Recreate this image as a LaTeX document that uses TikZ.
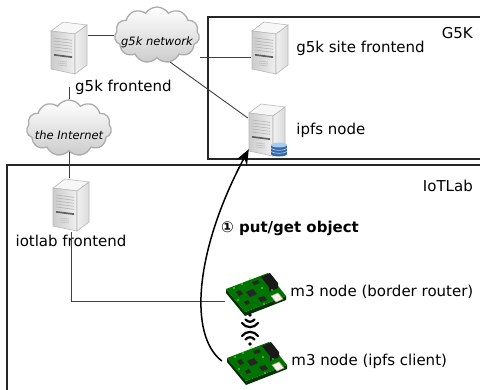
\documentclass[tikz,border=0pt]{standalone}
\usepackage{fontspec}
\setmainfont{DejaVu Sans}
\usetikzlibrary{arrows.meta,positioning,calc,shapes.symbols}

\definecolor{dbblue}{HTML}{3567A8}
\definecolor{dblight}{HTML}{A9CBEE}

% tower server, drawn around the node centre
\newcommand{\servericon}{%
  \begin{scope}[shift={(path picture bounding box.center)}]
    \filldraw[draw=gray!55, fill=gray!6, line width=0.6pt]
      (-18,-17) -- (-6,-26) -- (18,-23) -- (6,-14) -- cycle;
    \shadedraw[draw=gray!55, left color=gray!40, right color=gray!12, line width=0.6pt]
      (-18,-17) -- (6,-14) -- (6,26) -- (-18,21) -- cycle;
    \shadedraw[draw=gray!55, left color=gray!12, right color=gray!28, line width=0.6pt]
      (6,-14) -- (18,-23) -- (18,17) -- (6,26) -- cycle;
    \foreach \yy in {-10,-7,...,2}
      \draw[gray!60, line width=0.6pt] (-15,\yy) -- (3,\yy+2.3);
    \fill[gray!75!black] (-15,6) -- (3,8.3) -- (3,10) -- (-15,7.7) -- cycle;
    \foreach \yy in {13,15,17}
      \draw[gray!55, line width=0.5pt] (-11,\yy) -- (-2,\yy+1);
  \end{scope}}

% m3 board
\newcommand{\boardicon}{%
  \begin{scope}[shift={(path picture bounding box.center)}]
    \fill[green!20!black] (-30,-3) -- (-11,20) -- (30,4) -- (30,8) -- (-11,24) -- (-30,1) -- cycle;
    \fill[green!45!black] (-30,-3) -- (12,-19) -- (30,4) -- (-11,20) -- cycle;
    \fill[black!85] (-10,0) -- (-3,-3) -- (1,2) -- (-6,5) -- cycle;
    \fill[black!85] (-20,0) -- (-16,-2) -- (-13,2) -- (-17,4) -- cycle;
    \fill[black!85] (2,6) -- (8,4) -- (11,8) -- (5,10) -- cycle;
    \fill[black!85] (-4,-10) -- (2,-12) -- (4,-9) -- (-2,-7) -- cycle;
    \fill[black!85] (-12,10) -- (-8,8) -- (-6,11) -- (-10,13) -- cycle;
    \fill[black!90] (5,-15) -- (14,-19) -- (22,-9) -- (22,-4) -- (13,0) -- (13,-5) -- cycle;
    \filldraw[fill=orange!10, draw=gray!70, line width=0.5pt]
      (15,4) -- (22,1) -- (27,7) -- (20,10) -- cycle;
    \foreach \p in {(-22,-4),(-14,-8),(-6,-13),(6,-4),(-18,8),(8,12),(16,-2)}
      \fill[green!70!white] \p circle (0.9pt);
  \end{scope}}

% radio link between the two boards
\newcommand{\radioicon}{%
  \begin{scope}[shift={(path picture bounding box.center)}, line width=2.2pt, line cap=round]
    \fill (0,-15) circle (1.8pt);
    \draw (-4.5,-10.5) .. controls (-2,-7.5) and (2,-7.5) .. (4.5,-10.5);
    \draw (-8,-7) .. controls (-4,-1.5) and (4,-1.5) .. (8,-7);
    \draw (-8,6) .. controls (-4,0.5) and (4,0.5) .. (8,6);
    \draw (-4.5,9.5) .. controls (-2,6.5) and (2,6.5) .. (4.5,9.5);
    \fill (0,14) circle (1.8pt);
  \end{scope}}

% small database stack
\newcommand{\dbicon}{%
  \begin{scope}[shift={(path picture bounding box.center)}]
    \fill[dbblue] (-8,-4) rectangle (8,5);
    \fill[dbblue] (0,5) ellipse [x radius=8pt, y radius=2.5pt];
    \fill[dblight] (0,-4) ellipse [x radius=8pt, y radius=2.5pt];
    \draw[dblight, line width=0.7pt] (-8,-0.5) .. controls (-4,2) and (4,2) .. (8,-0.5);
    \draw[dblight, line width=0.7pt] (-8,2.5) .. controls (-4,5) and (4,5) .. (8,2.5);
  \end{scope}}

\tikzset{
  txt/.style={font=\fontsize{15}{18}\selectfont, inner sep=3pt},
  actlbl/.style={font=\fontsize{15}{18}\selectfont\bfseries, inner sep=3pt},
  zone/.style={draw=black!85, line width=1.2pt},
  link/.style={draw=black!75, line width=0.9pt},
  flow/.style={-{Stealth[length=15pt,width=12pt]}, line width=1.5pt},
  cloudy/.style={cloud, cloud puffs=11, cloud puff arc=115, aspect=1.55,
                 draw=gray!65, line width=1.3pt, top color=white, bottom color=gray!40,
                 minimum width=85pt, minimum height=56pt, inner sep=0pt},
  cloudtxt/.style={font=\fontsize{11.5}{13}\selectfont\itshape, inner sep=0pt, yshift=-7pt},
  server/.style={minimum width=38pt, minimum height=54pt, inner sep=0pt,
                 path picture={\servericon}},
  board/.style={minimum width=62pt, minimum height=48pt, inner sep=0pt,
                path picture={\boardicon}},
  radio/.style={minimum width=22pt, minimum height=38pt, inner sep=0pt,
                path picture={\radioicon}},
  dbnode/.style={minimum width=18pt, minimum height=16pt, inner sep=0pt,
                 path picture={\dbicon}},
}

\begin{document}
\begin{tikzpicture}[x=1pt, y=-1pt]
\useasboundingbox (0,0) rectangle (480,389);
\clip (0,0) rectangle (480,389);

% the two testbeds
\draw[zone] (208,17) rectangle (490,159);
\draw[zone] (7,165) rectangle (490,400);
\node[txt, anchor=east] (g5klbl) at (476,33) {G5K};
\node[txt, anchor=east] (iotlbl) at (476,186) {IoTLab};

% grid5000 side
\node[server] (g5kfe) at (69,48) {};
\node[txt, anchor=west] (g5kfelbl) at (72,87) {g5k frontend};
\node[cloudy, label={[cloudtxt]center:g5k network}] (g5knet) at (157,35) {};
\node[server] (site) at (270,48) {};
\node[txt, right=4pt of site] (sitelbl) {g5k site frontend};
\node[server] (ipfs) at (267,130) {};
\node[dbnode] (ipfsdb) at (279,149) {};
\node[txt, right=7pt of ipfs] (ipfslbl) {ipfs node};

% iotlab side
\node[cloudy, label={[cloudtxt]center:the Internet}] (inet) at (69,128) {};
\node[server] (iotfe) at (71,205) {};
\node[txt, below=0pt of iotfe] (iotfelbl) {iotlab frontend};
\node[board] (border) at (256,292) {};
\node[txt, right=0pt of border] (borderlbl) {m3 node (border router)};
\node[board] (client) at (257,361) {};
\node[txt, right=0pt of client] (clientlbl) {m3 node (ipfs client)};
\node[radio] (wifi) at (250,330) {};

% wiring
\draw[link] (g5knet.west -| g5kfe.east) -- (g5knet.west);
\draw[link] ([yshift=-9pt]site.west -| g5knet.east) -- ([yshift=-9pt]site.west);
\draw[link] (g5knet.-64) -- ([yshift=12pt]ipfs.west);
\draw[link] (g5kfelbl.west -| g5kfe) -- (inet.north);
\draw[link] (inet.south) -- (inet.south |- iotfe.north);
\draw[link] (iotfe.south) |- ([yshift=-9pt]border.west);

% request path
\draw[flow] ([xshift=-4pt]client.west) .. controls (188,335) and (195,250) .. ($(ipfs.south west)+(1,-8)$);
\node[actlbl, anchor=west] (putlbl) at (218,228) {① put/get object};
\end{tikzpicture}
\end{document}
